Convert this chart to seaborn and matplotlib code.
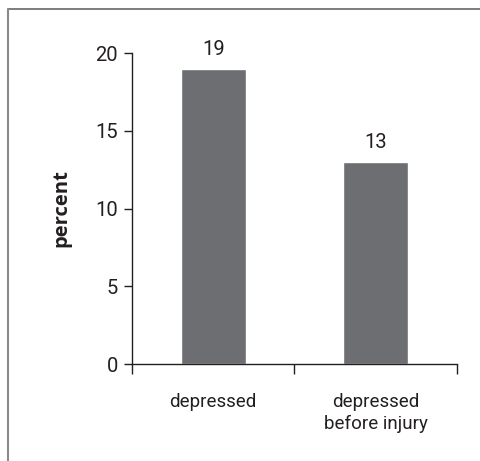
import pandas as pd
import seaborn as sns
import matplotlib.pyplot as plt
from matplotlib.lines import Line2D

# Data
categories = ["depressed", "depressed\nbefore injury"]
percent = [19, 13]
y_ticks = [0, 5, 10, 15, 20]

df = pd.DataFrame({"group": categories, "percent": percent})

sns.set_style("ticks")
plt.rcParams["font.family"] = ["Roboto", "DejaVu Sans"]

fig = plt.figure(figsize=(4.8, 4.61), dpi=100)
ax = fig.add_axes([0.275, 0.2104, 0.677, 0.6746])

sns.barplot(data=df, x="group", y="percent", color="#6d6e71", width=0.4,
            saturation=1, ax=ax)

ax.set_xlim(-0.5, 1.5)
ax.set_ylim(0, 20)
ax.set_yticks(y_ticks)
ax.set_xlabel("")
ax.set_ylabel("percent", fontsize=14.5, fontweight="bold", labelpad=17,
              family=["Open Sans", "DejaVu Sans"], color="#231f20")

# category labels without ticks, boundary ticks without labels
ax.tick_params(axis="x", which="major", length=0, labelsize=13.5, pad=21, colors="#231f20")
ax.set_xticks([-0.5, 0.5, 1.5], minor=True)
ax.tick_params(axis="x", which="minor", length=7.5, width=1, color="#231f20", direction="out")
ax.tick_params(axis="y", length=6, width=1, labelsize=14.5, pad=4, colors="#231f20")
for lbl in ax.get_xticklabels():
    lbl.set_linespacing(1.25)

sns.despine(ax=ax)
for s in ["left", "bottom"]:
    ax.spines[s].set_linewidth(1)
    ax.spines[s].set_color("#231f20")

for x, v in enumerate(percent):
    ax.text(x, v + 0.9, str(v), ha="center", va="baseline", fontsize=14.5,
            color="#231f20", clip_on=False)

# outer frame (top and left edges)
fig.add_artist(Line2D([0.0167, 1.0], [0.9805, 0.9805], color="#5a5a5a", lw=1.1))
fig.add_artist(Line2D([0.0167, 0.0167], [0.0, 0.9805], color="#8a8a8a", lw=1.5))

fig.savefig("out.png", dpi=100)
